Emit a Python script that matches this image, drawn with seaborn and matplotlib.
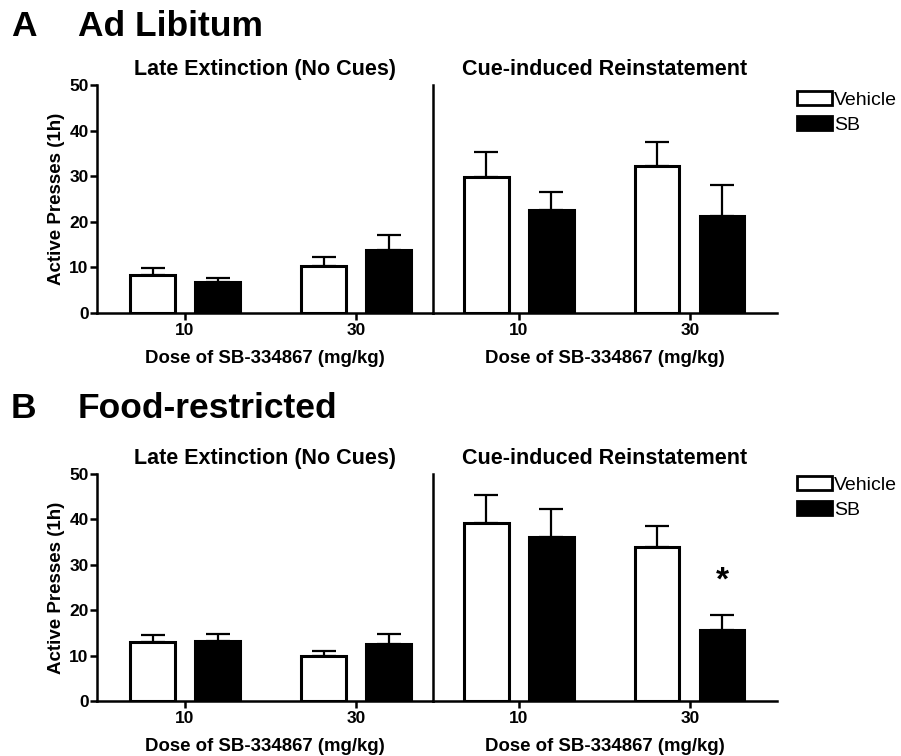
import numpy as np
import pandas as pd
import matplotlib
matplotlib.use("Agg")
import matplotlib.pyplot as plt
from matplotlib.patches import Patch
import seaborn as sns

# ---------------- data ----------------
doses = ["10", "30"]
treatments = ["Vehicle", "SB"]

# Panel A: Ad Libitum
a_ext_vehicle = [8.4, 10.4]
a_ext_vehicle_sem = [1.5, 1.8]
a_ext_sb = [6.9, 13.9]
a_ext_sb_sem = [0.8, 3.1]
a_rein_vehicle = [29.9, 32.3]
a_rein_vehicle_sem = [5.4, 5.1]
a_rein_sb = [22.5, 21.2]
a_rein_sb_sem = [4.0, 6.9]

# Panel B: Food-restricted
b_ext_vehicle = [12.9, 9.85]
b_ext_vehicle_sem = [1.6, 1.25]
b_ext_sb = [13.2, 12.5]
b_ext_sb_sem = [1.5, 2.2]
b_rein_vehicle = [39.3, 34.0]
b_rein_vehicle_sem = [6.1, 4.5]
b_rein_sb = [36.2, 15.7]
b_rein_sb_sem = [6.2, 3.2]

panel_letters = ["A", "B"]
panel_titles = ["Ad Libitum", "Food-restricted"]
phase_titles = ["Late Extinction (No Cues)", "Cue-induced Reinstatement"]
ylabel = "Active Presses (1h)"
xlabel = "Dose of SB-334867 (mg/kg)"
yticks = [0, 10, 20, 30, 40, 50]


def make_df(veh, veh_sem, sb, sb_sem):
    rows = []
    for d, v, s in zip(doses, veh, veh_sem):
        rows.append({"dose": d, "treatment": "Vehicle", "value": v, "sem": s})
    for d, v, s in zip(doses, sb, sb_sem):
        rows.append({"dose": d, "treatment": "SB", "value": v, "sem": s})
    return pd.DataFrame(rows)


panels = [
    [make_df(a_ext_vehicle, a_ext_vehicle_sem, a_ext_sb, a_ext_sb_sem),
     make_df(a_rein_vehicle, a_rein_vehicle_sem, a_rein_sb, a_rein_sb_sem)],
    [make_df(b_ext_vehicle, b_ext_vehicle_sem, b_ext_sb, b_ext_sb_sem),
     make_df(b_rein_vehicle, b_rein_vehicle_sem, b_rein_sb, b_rein_sb_sem)],
]

# ---------------- style ----------------
sns.set_theme(style="ticks")
plt.rcParams["font.family"] = ["Liberation Sans", "DejaVu Sans"]
plt.rcParams["axes.linewidth"] = 1.8
for k in ["text.color", "axes.labelcolor", "xtick.color", "ytick.color",
          "axes.edgecolor"]:
    plt.rcParams[k] = "black"

W, H = 901, 756
fig = plt.figure(figsize=(W / 100, H / 100), dpi=100)

palette = {"Vehicle": "white", "SB": "black"}

ax_x = [(97, 433), (433, 777)]
ax_y = [(85, 313), (474, 701)]
title_y = [27, 408]
legend_top = [94, 479]


def fx(px):
    return px / W


def fy(py):
    return 1 - py / H


for p in range(2):
    top, bot = ax_y[p]
    for q in range(2):
        l, r = ax_x[q]
        ax = fig.add_axes([fx(l), fy(bot), fx(r) - fx(l), (bot - top) / H])
        df = panels[p][q]
        sns.barplot(data=df, x="dose", y="value", hue="treatment",
                    order=doses, hue_order=treatments, palette=palette,
                    width=0.76, gap=0.32, edgecolor="black", linewidth=2.2,
                    errorbar=None, legend=False, ax=ax, zorder=3)
        for cont, tr in zip(ax.containers, treatments):
            sub = df[df["treatment"] == tr].set_index("dose").loc[doses]
            xs = [b.get_x() + b.get_width() / 2 for b in cont]
            ys = [b.get_height() for b in cont]
            ax.errorbar(xs, ys, yerr=[np.zeros(len(xs)), sub["sem"].values],
                        fmt="none", ecolor="black", elinewidth=1.6,
                        capsize=8.5, capthick=1.6, zorder=2)
        ax.set_ylim(0, 50)
        if q == 0:
            ax.set_xlim(-0.515, 1.45)
        else:
            ax.set_xlim(-0.503, 1.51)
        ax.set_xlabel(xlabel, fontsize=13.4, fontweight="bold", labelpad=9)
        ax.tick_params(axis="x", length=5, width=1.8, labelsize=12.5, pad=2)
        for t in ax.get_xticklabels():
            t.set_fontweight("bold")
        ax.spines["top"].set_visible(False)
        ax.spines["right"].set_visible(False)
        ax.set_title(phase_titles[q], fontsize=15.5, fontweight="bold",
                     pad=7)
        if q == 0:
            ax.set_yticks(yticks)
            ax.set_yticklabels([str(v) for v in yticks], fontweight="bold",
                               fontsize=12.5)
            ax.tick_params(axis="y", length=5, width=1.8, pad=1)
            ax.set_ylabel(ylabel, fontsize=13.5, fontweight="bold",
                          labelpad=3)
        else:
            ax.set_yticks([])
            ax.set_ylabel("")
            if p == 1:
                sb_bar = ax.containers[1][1]
                ax.text(sb_bar.get_x() + sb_bar.get_width() / 2, 26.5, "*",
                        ha="center", va="center", fontsize=24,
                        fontweight="bold")

    fig.text(fx(11), fy(title_y[p]), panel_letters[p], fontsize=25.5,
             fontweight="bold", va="center", ha="left")
    fig.text(fx(78), fy(title_y[p]), panel_titles[p], fontsize=25.5,
             fontweight="bold", va="center", ha="left")

    leg_handles = [Patch(facecolor=palette[t], edgecolor="black",
                         linewidth=2.0) for t in treatments]
    fig.legend(leg_handles, treatments, loc="upper left",
               bbox_to_anchor=(fx(797), fy(legend_top[p] - 3)),
               frameon=False, fontsize=14, handlelength=1.8,
               handleheight=0.75, handletextpad=0.12, labelspacing=0.35,
               borderpad=0, borderaxespad=0)

fig.savefig("out.png", dpi=100)
